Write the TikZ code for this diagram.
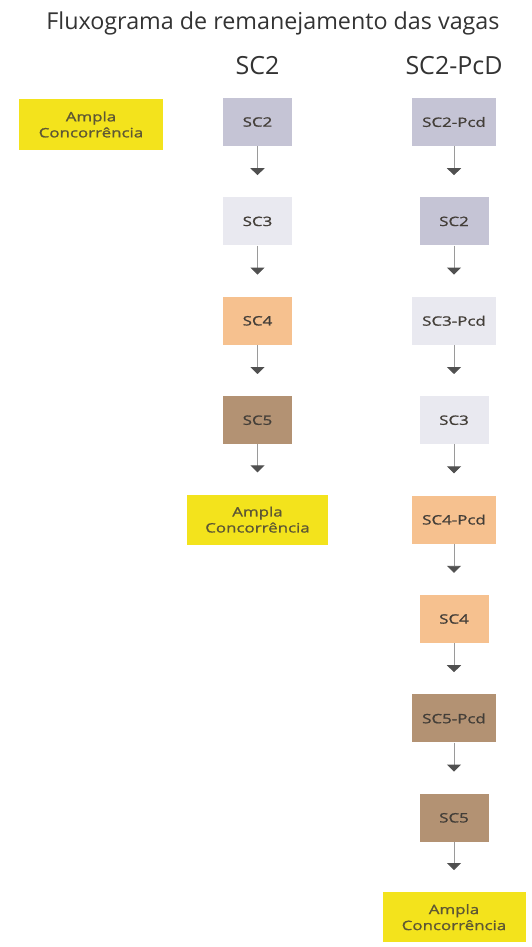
\documentclass[tikz,border=0pt]{standalone}
\usepackage{fontspec}
\setmainfont{Open Sans}
\newfontfamily\boxfont{Open Sans}[FakeStretch=1.3, FakeBold=1.2]
\usepackage{tikz}
\usetikzlibrary{positioning,arrows.meta}
\definecolor{sctwo}{HTML}{C5C4D5}
\definecolor{scthree}{HTML}{E9E9F0}
\definecolor{scfour}{HTML}{F6C18F}
\definecolor{scfive}{HTML}{B39273}
\definecolor{ampla}{HTML}{F3E31C}
\definecolor{boxtext}{HTML}{433E38}
\definecolor{headtext}{HTML}{333333}
\definecolor{arrline}{HTML}{9A9A9A}
\definecolor{arrtip}{HTML}{505050}

\tikzset{
    sc/.style={minimum height=48pt, inner sep=0pt, text=boxtext,
        font=\boxfont\fontsize{13}{16}\selectfont},
    scn/.style={sc, minimum width=69pt},
    scpcd/.style={sc, minimum width=84pt},
    amplabox/.style={sc, fill=ampla, minimum width=143pt, minimum height=50pt,
        align=center, text=boxtext!85!ampla},
    arr/.style={draw=arrline, line width=0.9pt, shorten >=22pt,
        -{Triangle[width=14pt,length=7pt,color=arrtip]}}
}

\begin{document}
\begin{tikzpicture}[x=1pt,y=1pt]
    \fill[white] (0,0) rectangle (531,-947);
    \useasboundingbox (0,0) rectangle (531,-947);
    % Title and column heads
    \node[text=headtext, font=\fontsize{23.3}{26}\selectfont] (title) at (273,-23) {Fluxograma de remanejamento das vagas};
    \node[text=headtext, font=\fontsize{25}{28}\selectfont] (headA) at (257.5,-66) {SC2};
    \node[text=headtext, font=\fontsize{25}{28}\selectfont] (headB) at (454,-66) {SC2-PcD};
    % Left yellow box
    \node[amplabox, minimum width=144pt, minimum height=51pt] (amplaL) at (91,-124.5) {Ampla\\Concorrência};
    % Column SC2
    \node[scn, fill=sctwo] (aTwo) at (257.5,-122) {SC2};
    \node[scn, fill=scthree, below=51pt of aTwo] (aThree) {SC3};
    \node[scn, fill=scfour, below=51pt of aThree] (aFour) {SC4};
    \node[scn, fill=scfive, below=51pt of aFour] (aFive) {SC5};
    \node[amplabox, minimum width=141pt, below=50pt of aFive] (aAmpla) {Ampla\\Concorrência};
    \draw[arr] (aTwo) -- (aThree);
    \draw[arr] (aThree) -- (aFour);
    \draw[arr] (aFour) -- (aFive);
    \draw[arr] (aFive) -- (aAmpla);
    % Column SC2-PcD
    \node[scpcd, fill=sctwo] (bTwoP) at (454,-122) {SC2-Pcd};
    \node[scn, fill=sctwo, below=51pt of bTwoP] (bTwo) {SC2};
    \node[scpcd, fill=scthree, below=51pt of bTwo] (bThreeP) {SC3-Pcd};
    \node[scn, fill=scthree, below=51pt of bThreeP] (bThree) {SC3};
    \node[scpcd, fill=scfour, below=51pt of bThree] (bFourP) {SC4-Pcd};
    \node[scn, fill=scfour, below=51pt of bFourP] (bFour) {SC4};
    \node[scpcd, fill=scfive, below=51pt of bFour] (bFiveP) {SC5-Pcd};
    \node[scn, fill=scfive, below=51pt of bFiveP] (bFive) {SC5};
    \node[amplabox, below=50pt of bFive] (bAmpla) {Ampla\\Concorrência};
    \draw[arr] (bTwoP) -- (bTwo);
    \draw[arr] (bTwo) -- (bThreeP);
    \draw[arr] (bThreeP) -- (bThree);
    \draw[arr] (bThree) -- (bFourP);
    \draw[arr] (bFourP) -- (bFour);
    \draw[arr] (bFour) -- (bFiveP);
    \draw[arr] (bFiveP) -- (bFive);
    \draw[arr] (bFive) -- (bAmpla);
\end{tikzpicture}
\end{document}
